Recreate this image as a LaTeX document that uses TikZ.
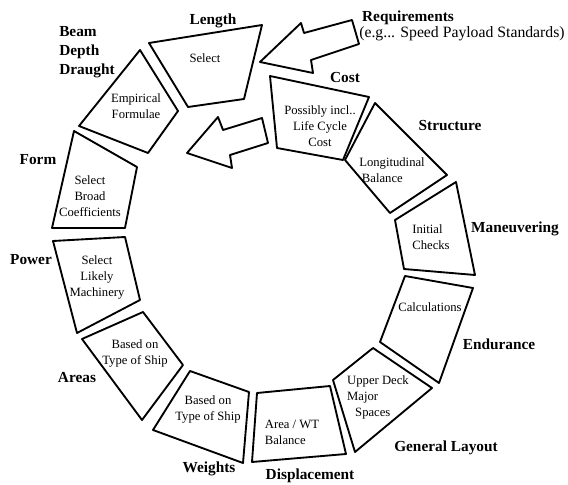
\documentclass[tikz,border=0pt]{standalone}
\usepackage{fontspec}
\setmainfont{Liberation Serif}
\begin{document}
\begin{tikzpicture}[x=0.75pt,y=-0.75pt,
  seg/.style={draw, line width=1.4pt, line join=round},
  lbl/.style={font=\fontsize{11.5}{14}\selectfont\bfseries, inner sep=0},
  reg/.style={font=\fontsize{11.8}{14}\selectfont, inner sep=0},
  txt/.style={font=\fontsize{9.5}{12}\selectfont, align=center, inner sep=0}]
\useasboundingbox (0,0) rectangle (568,485);
% ring segments
\draw[seg] (149,43) -- (262,25) -- (244,99) -- (188,107) -- cycle;
\draw[seg] (140,50) -- (178,111) -- (148,153) -- (79,126) -- cycle;
\draw[seg] (74,131) -- (137,167) -- (125,228) -- (52,228) -- cycle;
\draw[seg] (53,241) -- (125,237) -- (140,300) -- (77,333) -- cycle;
\draw[seg] (82,339) -- (143,312) -- (183,365) -- (142,420) -- cycle;
\draw[seg] (190,371) -- (249,392) -- (243,463) -- (153,430) -- cycle;
\draw[seg] (257,393) -- (330,386) -- (346,454) -- (252,462) -- cycle;
\draw[seg] (333,380) -- (373,348) -- (432,388) -- (355,452) -- cycle;
\draw[seg] (405,276) -- (473,288) -- (439,383) -- (380,342) -- cycle;
\draw[seg] (395,220) -- (456,182) -- (475,275) -- (404,269) -- cycle;
\draw[seg] (375,103) -- (447,175) -- (390,213) -- (345,160) -- cycle;
\draw[seg] (270,76) -- (369,97) -- (343,160) -- (277,148) -- cycle;
% hollow arrows
\draw[seg] (260,62) -- (301,23) -- (304,33) -- (352,20) -- (359,44) -- (311,60) -- (313,73) -- cycle;
\draw[seg] (187,153) -- (218,117) -- (223,130) -- (262,118) -- (268,143) -- (230,155) -- (232,168) -- cycle;
% inner texts
\node[txt] (tlen) at (205,58) {Select};
\node[txt] (temp) at (136,106) {Empirical\\Formulae};
\node[txt] (tform) at (90,196) {Select\\Broad\\Coefficients};
\node[txt] (tpow) at (97,277) {Select\\Likely\\Machinery};
\node[txt] (tarea) at (135,353) {Based on\\Type of Ship};
\node[txt] (twei) at (208,409) {Based on\\Type of Ship};
\node[txt, align=left] (tdis) at (292,432) {Area / WT\\Balance};
\node[txt, align=left] (tgen) at (378,397) {Upper Deck\\Major\\\hspace{6pt}Spaces};
\node[txt] (tend) at (430,307) {Calculations};
\node[txt, align=left] (tman) at (431,237) {Initial\\Checks};
\node[txt, align=left] (tstr) at (392,170) {Longitudinal\\\hspace{2pt}Balance};
\node[txt] (tcost) at (320,126) {Possibly incl..\\Life Cycle\\Cost};
% outer labels
\node[lbl] (llen) at (213,21) {Length};
\node[lbl, anchor=west, align=left, font=\fontsize{11.5}{14.2}\selectfont\bfseries] (lbeam) at (59,52) {Beam\\Depth\\Draught};
\node[lbl] (lreq) at (408,18) {Requirements};
\node[reg] (lreq2) at (462,34) {(e.g... Speed Payload Standards)};
\node[lbl] (lcost) at (345,77) {Cost};
\node[lbl] (lstr) at (450,126) {Structure};
\node[lbl] (lform) at (38,160) {Form};
\node[lbl] (lman) at (515,229) {Maneuvering};
\node[lbl] (lpow) at (31,260) {Power};
\node[lbl] (lend) at (499,344) {Endurance};
\node[lbl] (lareas) at (77,378) {Areas};
\node[lbl] (lgen) at (446,448) {General Layout};
\node[lbl] (lwei) at (209,469) {Weights};
\node[lbl] (ldis) at (310,476) {Displacement};
\end{tikzpicture}
\end{document}
